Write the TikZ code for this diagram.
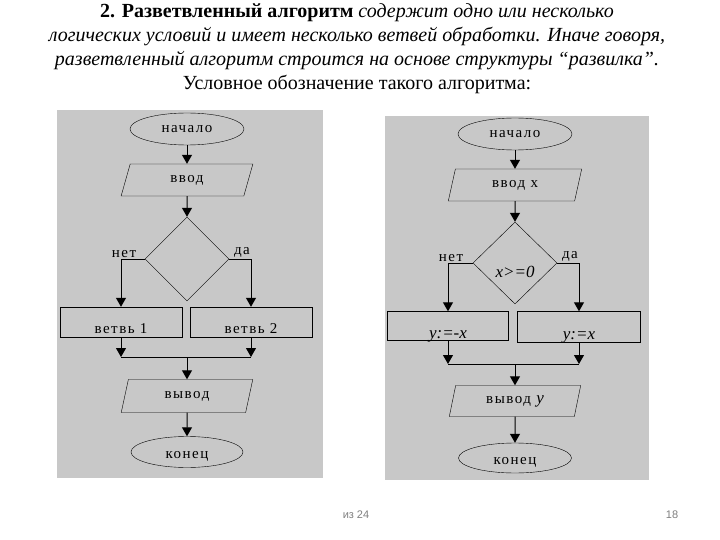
\documentclass[tikz,border=0pt]{standalone}
\usepackage{fontspec}
\setmainfont{Liberation Serif}
\setsansfont{Liberation Sans}
\newfontfamily\chartfont{Liberation Serif}[LetterSpace=10.0]
\usetikzlibrary{shapes.geometric,arrows.meta}
\definecolor{panelgray}{RGB}{200,200,200}
\definecolor{footgray}{RGB}{128,128,128}

\begin{document}
\begin{tikzpicture}[x=1pt, y=-1pt,
    terminal/.style={draw, ellipse, minimum width=114pt, minimum height=32pt, inner sep=0pt, font=\chartfont\fontsize{15}{17}\selectfont},
    io/.style={draw, trapezium, trapezium left angle=78, trapezium right angle=102, trapezium stretches=true, minimum width=132pt, minimum height=32pt, inner sep=2pt, font=\chartfont\fontsize{15}{17}\selectfont},
    decision/.style={draw, diamond, minimum width=84pt, minimum height=84pt, inner sep=0pt, font=\itshape\fontsize{17}{19}\selectfont},
    process/.style={draw, rectangle, minimum width=122pt, minimum height=30pt, inner sep=0pt, text height=22pt, text depth=0pt, font=\chartfont\fontsize{15}{17}\selectfont},
    lbl/.style={inner sep=1pt, font=\chartfont\fontsize{15}{17}\selectfont},
    arrow/.style={-{Triangle[width=10pt,length=9pt]}, line width=1pt},
    line/.style={line width=1pt}
]
\useasboundingbox[fill=white] (0,0) rectangle (720,540);
\fill[panelgray] (57,110) rectangle (323,478);
\fill[panelgray] (385,116) rectangle (649,480);
\node[font=\fontsize{20}{24}\selectfont, align=center, anchor=north] (title) at (357,0) {\textbf{2. Разветвленный алгоритм} \textit{содержит одно или несколько}\\
\textit{логических условий и имеет несколько ветвей обработки. Иначе говоря,}\\
\textit{разветвленный алгоритм строится на основе структуры “развилка”.}\\
Условное обозначение такого алгоритма:};
% left chart
\node[terminal] (s1) at (187,129) {начало};
\node[io] (i1) at (187,180) {ввод};
\node[decision] (d1) at (187,259) {};
\node[process] (b11) at (121,322) {ветвь 1};
\node[process] (b12) at (251,322) {ветвь 2};
\coordinate (j1) at (187,357);
\node[io, minimum height=33pt] (o1) at (187,396) {вывод};
\node[terminal, minimum width=112pt, minimum height=31pt, text height=16pt] (e1) at (187,452) {конец};
\draw[arrow] (s1) -- (i1);
\draw[arrow] (i1) -- (d1);
\draw[arrow] (d1.west) -| (b11.north);
\draw[arrow] (d1.east) -| (b12.north);
\node[lbl, anchor=south, xshift=3pt] (no1) at (b11.north |- d1.west) {нет};
\node[lbl, anchor=south east] (yes1) at (b12.north |- d1.east) {да};
\draw[arrow] (b11.south) -- (b11.south |- j1);
\draw[arrow] (b12.south) -- (b12.south |- j1);
\draw[line] (b11.south |- j1) -- (b12.south |- j1);
\draw[arrow] (j1) -- (o1);
\draw[arrow] (o1) -- (e1);
% right chart
\node[terminal] (s2) at (515,134) {начало};
\node[io, minimum width=134pt] (i2) at (515,185) {ввод x};
\node[decision, minimum height=82pt, text height=28pt, text depth=0pt] (d2) at (515,263) {x>=0};
\node[process, minimum width=121pt, minimum height=29pt, text height=24pt] (b21) at (448,326) {\rmfamily\itshape\fontsize{17}{19}\selectfont y:=-x};
\node[process, minimum width=123pt, minimum height=31pt, text height=24pt] (b22) at (579,327) {\rmfamily\itshape\fontsize{17}{19}\selectfont y:=x};
\coordinate (j2) at (515,364);
\node[io, minimum height=31pt] (o2) at (515,401) {вывод {\rmfamily\itshape\fontsize{17}{19}\selectfont y}};
\node[terminal, minimum width=113pt, minimum height=30pt, text height=16pt] (e2) at (515,458) {конец};
\draw[arrow] (s2) -- (i2);
\draw[arrow] (i2) -- (d2);
\draw[arrow] (d2.west) -| (b21.north);
\draw[arrow] (d2.east) -| (b22.north);
\node[lbl, anchor=south, xshift=3pt] (no2) at (b21.north |- d2.west) {нет};
\node[lbl, anchor=south east] (yes2) at (b22.north |- d2.east) {да};
\draw[arrow] (b21.south) -- (b21.south |- j2);
\draw[arrow] (b22.south) -- (b22.south |- j2);
\draw[line] (b21.south |- j2) -- (b22.south |- j2);
\draw[arrow] (j2) -- (o2);
\draw[arrow] (o2) -- (e2);
% footer
\node[font=\sffamily\fontsize{11}{13}\selectfont, text=footgray] (pages) at (356,515) {из 24};
\node[font=\sffamily\fontsize{11}{13}\selectfont, text=footgray] (slide) at (672,515) {18};
\end{tikzpicture}
\end{document}
